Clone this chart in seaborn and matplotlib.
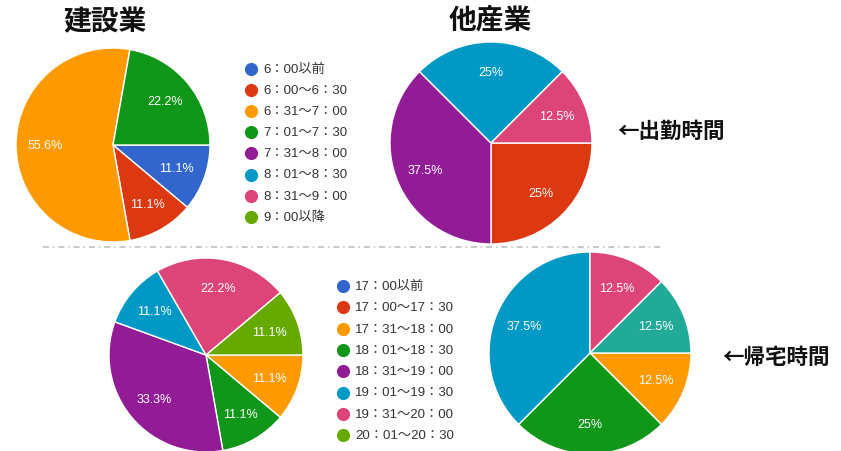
import matplotlib
matplotlib.use("Agg")
import matplotlib.pyplot as plt
import numpy as np
import seaborn as sns

# Survey: commute start times and return-home times, construction vs. other industries
morning_labels = ["6：00以前", "6：00～6：30", "6：31～7：00", "7：01～7：30",
                  "7：31～8：00", "8：01～8：30", "8：31～9：00", "9：00以降"]
construction_morning = [11.1, 11.1, 55.6, 22.2, 0, 0, 0, 0]
other_morning = [0, 25, 0, 0, 37.5, 25, 12.5, 0]

evening_labels = ["17：00以前", "17：00～17：30", "17：31～18：00", "18：01～18：30",
                  "18：31～19：00", "19：01～19：30", "19：31～20：00", "20：01～20：30",
                  "20：31以降"]
construction_evening = [0, 0, 11.1, 11.1, 33.3, 11.1, 22.2, 11.1, 0]
other_evening = [0, 0, 12.5, 25, 0, 37.5, 12.5, 0, 12.5]

titles = ["建設業", "他産業"]
row_notes = ["←出勤時間", "←帰宅時間"]

sns.set_theme(style="white")
palette = sns.color_palette(["#3366CC", "#DC3912", "#FF9900", "#109618", "#921C96",
                             "#0099C6", "#DD4477", "#66AA00", "#22AA99"])

W, H = 841, 452
fig = plt.figure(figsize=(W / 100, H / 100), dpi=100)
ax = fig.add_axes([0, 0, 1, 1])

CJK = ["Noto Sans CJK JP", "DejaVu Sans"]
LEG = ["Liberation Sans", "Noto Sans CJK JP", "DejaVu Sans"]
PCT = ["Liberation Sans", "DejaVu Sans"]


def fmt_pct(v):
    s = f"{v:.1f}"
    if s.endswith(".0"):
        s = s[:-2]
    return s + "%"


def draw_pie(values, cx, cy, r):
    vals = [v for v in values if v > 0]
    cols = [palette[i] for i, v in enumerate(values) if v > 0]
    wedges, _ = ax.pie(vals, colors=cols, center=(cx, H - cy), radius=r,
                       startangle=0, counterclock=False,
                       wedgeprops=dict(edgecolor="white", linewidth=1.0))
    for w, v in zip(wedges, vals):
        mid = np.deg2rad((w.theta1 + w.theta2) / 2)
        ax.text(cx + 0.7 * r * np.cos(mid), H - cy + 0.7 * r * np.sin(mid),
                fmt_pct(v), ha="center", va="center", color="white",
                fontsize=9, family=PCT)


def draw_legend(labels, x, y0, step):
    for i, lab in enumerate(labels):
        y = H - (y0 + i * step)
        ax.scatter([x], [y], s=90, color=palette[i], linewidths=0, zorder=3)
        ax.text(x + 12, y, lab, ha="left", va="center", fontsize=9.5,
                color="#333333", family=LEG)


draw_pie(construction_morning, 113, 146, 97)
draw_pie(other_morning, 491, 144, 101)
draw_pie(construction_evening, 206, 356, 97)
draw_pie(other_evening, 590, 354, 101)

draw_legend(morning_labels, 251, 70, 21.1)
draw_legend(evening_labels[:8], 343, 287, 21.3)

ax.text(105, H - 22, titles[0], ha="center", va="center", fontsize=20,
        fontweight="bold", color="#111111", family=CJK)
ax.text(490, H - 22, titles[1], ha="center", va="center", fontsize=20,
        fontweight="bold", color="#111111", family=CJK)
ax.text(617, H - 131, row_notes[0], ha="left", va="center", fontsize=15.5,
        fontweight="bold", color="#111111", family=CJK)
ax.text(722, H - 357, row_notes[1], ha="left", va="center", fontsize=15.5,
        fontweight="bold", color="#111111", family=CJK)

# dash-dot separator between the two rows
ax.plot([43, 664], [H - 248, H - 248], color="#bbbbbb", linewidth=1.1,
        dashes=(4, 2.5, 1, 2.5), zorder=0)

ax.set_xlim(0, W)
ax.set_ylim(0, H)
ax.set_aspect("equal")
ax.axis("off")

fig.savefig("out.png", dpi=100, facecolor="white")
